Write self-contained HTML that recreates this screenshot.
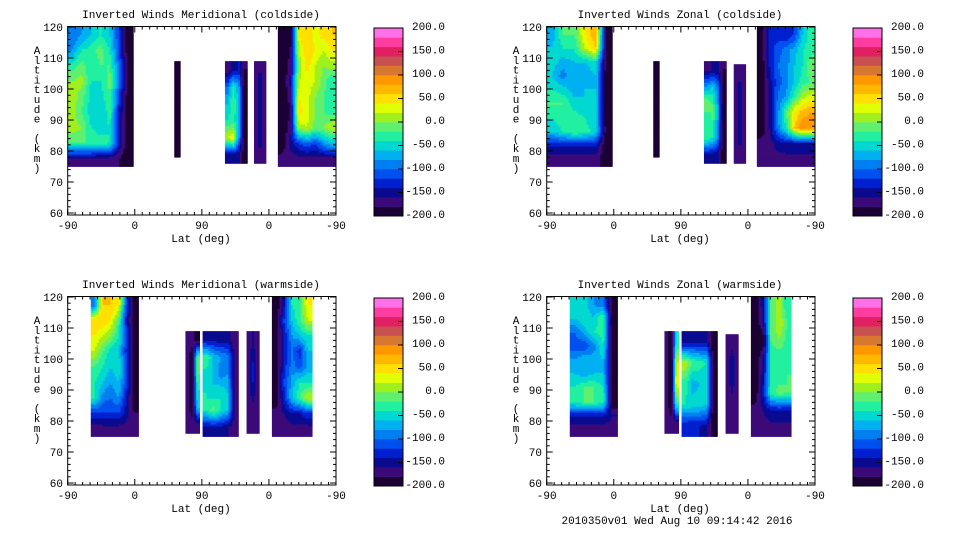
<!DOCTYPE html>
<html><head><meta charset="utf-8"><style>
html,body{margin:0;padding:0;background:#fff;width:960px;height:540px;overflow:hidden}
svg text{font-family:"Liberation Mono","DejaVu Sans Mono",monospace;font-size:11px;fill:#000}
</style></head><body>
<svg id="fig" width="960" height="540" xmlns="http://www.w3.org/2000/svg"></svg>
<script>
const xTicks=["-90","0","90","0","-90"];
const yTicks=[60,70,80,90,100,110,120];
const cbTicks=["200.0","150.0","100.0","50.0","0.0","-50.0","-100.0","-150.0","-200.0"];
const levels=["#1a0033","#3c0a78","#0a0a90","#0020d0","#0050f0","#0080f0","#00b0f0","#00d8d0","#20f0a0","#60f070","#a0f020","#e0ff00","#ffe000","#ffb800","#ff9800","#d87830","#c85050","#e02060","#ff3ca0","#ff70e8"];
const titles=["Inverted Winds Meridional (coldside)","Inverted Winds Zonal (coldside)","Inverted Winds Meridional (warmside)","Inverted Winds Zonal (warmside)"];
// strips: [lat0,lat1 (0..360 track units), altTop, altBottom]
const tlStrips=[[0,88,120,75],[143,151,109,78],[211,241,109,76],[250,266,109,76],[282,360,120,75]];
const tlValues=[
[[-100,-80,-60,-40,-60,-120,-200],[-80,-40,-30,-10,-40,-120,-200],[-30,-10,-40,-20,-20,-100,-200],[0,10,-40,-40,-10,-100,-200],[10,-10,-50,-50,-20,-120,-200],[10,-20,-50,-60,-30,-140,-200],[10,0,-40,-50,-40,-140,-200],[-20,-20,-20,-30,-40,-140,-200],[-170,-170,-170,-170,-170,-180,-200]],
[[-200]],
[[-170,-150,-140,-180],[-100,-40,-80,-200],[-60,-20,-60,-200],[-40,-30,-70,-200],[20,40,-80,-200],[-150,-150,-160,-200]],
[[-170,-160,-170],[-170,-140,-170],[-170,-140,-170],[-170,-140,-170],[-170,-140,-170],[-170,-170,-170]],
[[-200,-200,40,60,30,50,60],[-200,-180,20,60,40,20,40],[-200,-170,0,50,20,0,10],[-200,-160,20,30,20,-10,-40],[-200,-170,40,30,0,-20,-30],[-200,-180,50,30,0,-20,-30],[-200,-170,10,20,-10,0,20],[-200,-150,-120,-100,-120,-80,-60],[-170,-170,-170,-170,-170,-170,-170]]];
const trStrips=[[0,88,120,75],[143,151,109,78],[211,241,109,76],[251,267,108,76],[282,360,120,75]];
const trValues=[
[[-70,-20,-20,40,80,-200],[-60,-40,-40,20,60,-200],[-50,-70,-60,-60,-40,-200],[-60,-90,-60,-80,-60,-200],[-40,-50,-70,-60,-60,-200],[-20,-20,-50,-60,-60,-200],[-40,-20,-30,-40,-60,-200],[-60,-40,-20,-30,-50,-200],[-140,-140,-140,-140,-140,-200],[-170,-170,-170,-170,-170,-200]],
[[-200]],
[[-170,-160,-160,-180],[-80,-60,-100,-200],[0,-20,-80,-200],[-40,-20,-80,-200],[-20,-40,-90,-200],[-150,-150,-160,-200]],
[[-170,-170,-170],[-170,-140,-170],[-170,-140,-170],[-170,-140,-170],[-170,-170,-170]],
[[-200,-130,-130,-140,-120,-60,-30],[-200,-130,-110,-90,-70,-40,-30],[-200,-140,-100,-90,-60,-40,0],[-200,-150,-110,-90,-60,-30,-20],[-200,-160,-100,-80,-30,10,30],[-200,-160,-90,-20,40,70,80],[-200,-160,-90,-40,60,100,90],[-170,-170,-150,-140,-140,-140,-140],[-170,-170,-170,-170,-170,-170,-170]]];
const blStrips=[[31,95,120,75],[158,177,109,76],[181,229,109,75],[240,257,109,76],[274,328,120,75]];
const blValues=[
[[-100,60,60,40,-120,-200],[60,60,40,-20,-140,-200],[40,20,0,-40,-120,-200],[20,-20,-50,-60,-130,-200],[-20,-40,-60,-40,-120,-200],[-40,-60,-80,-60,-120,-200],[-40,-90,-100,-80,-140,-200],[-120,-120,-120,-120,-150,-180],[-180,-170,-170,-170,-170,-170]],
[[-170,-170,-200],[-170,-200,-20],[-170,-200,-20],[-170,-200,-40],[-170,-200,-60],[-170,-170,-170]],
[[-150,-150,-150,-150,-170],[-20,-60,-80,-90,-170],[-50,-60,-90,-80,-170],[-40,-60,-40,-60,-170],[-40,-10,-40,-60,-170],[-150,-150,-150,-160,-170]],
[[-170,-160,-170],[-170,-140,-170],[-170,-140,-170],[-170,-160,-170],[-170,-170,-170]],
[[-200,-150,-40,-20,40],[-200,-120,-60,-20,20],[-200,-140,-80,-60,-40],[-200,-140,-100,-130,-60],[-200,-130,-90,-110,-70],[-200,-120,-70,-40,-40],[-200,-130,-60,-20,20],[-170,-160,-140,-140,-120],[-170,-170,-170,-170,-170]]];
const brStrips=[[31,95,120,75],[158,177,109,76],[181,229,109,75],[240,257,108,76],[274,328,120,75]];
const brValues=[
[[-60,-50,-80,-100,-200],[-60,-40,-60,-20,-200],[-100,-70,-40,-30,-200],[-110,-120,-90,-40,-200],[-80,-60,-70,-60,-200],[-60,-70,-60,-60,-200],[-40,-20,-20,-40,-200],[-30,-20,-20,-30,-200],[-140,-140,-140,-140,-160],[-170,-170,-170,-170,-170]],
[[-170,-200,-40],[-170,-200,20],[-170,-200,40],[-170,-200,-20],[-170,-170,-170]],
[[-160,-150,-150,-150,-200],[20,-20,-30,-40,-200],[-30,-70,-60,-60,-200],[-40,-50,-50,-60,-200],[-140,-140,-140,-150,-200]],
[[-170,-170,-170],[-170,-140,-170],[-170,-150,-170],[-170,-170,-170],[-170,-170,-170]],
[[-200,-150,-20,10,-40],[-200,-160,-20,20,-20],[-200,-200,-20,0,-30],[-200,-160,-40,-40,-30],[-200,-150,-40,-30,-20],[-200,-140,-30,-10,-20],[-170,-160,-140,-140,-140],[-170,-170,-170,-170,-170]]];
const panelStrips=[tlStrips,trStrips,blStrips,brStrips];
const panelValues=[tlValues,trValues,blValues,brValues];

const NS="http://www.w3.org/2000/svg";
const svg=document.getElementById('fig');
function mk(tag,attrs,parent){const e=document.createElementNS(NS,tag);for(const k in attrs)e.setAttribute(k,attrs[k]);(parent||svg).appendChild(e);return e;}
function colorOf(v){let i=Math.floor((v+200)/20);if(i<0)i=0;if(i>19)i=19;return levels[i];}
function sample(grid,fx,fy){
  const nr=grid.length,nc=grid[0].length;
  let cx=fx-0.5,cy=fy-0.5;
  cx=Math.max(0,Math.min(nc-1,cx));cy=Math.max(0,Math.min(nr-1,cy));
  const c0=Math.floor(cx),r0=Math.floor(cy),c1=Math.min(nc-1,c0+1),r1=Math.min(nr-1,r0+1);
  const tx=cx-c0,ty=cy-r0;
  const a=grid[r0][c0]*(1-tx)+grid[r0][c1]*tx,b=grid[r1][c0]*(1-tx)+grid[r1][c1]*tx;
  return a*(1-ty)+b*ty;
}
const offsets=[[0,0],[479,0],[0,270],[479,270]];
const PX0=67.7,PX1=336,PY0=26.5,PY1=215;
function makeScales(ox,oy){
  const xs=u=>ox+PX0+(u/360)*(PX1-PX0);
  const ys=a=>oy+27+(120-a)*3.1;
  return [xs,ys];
}
const names=["meridional-coldside","zonal-coldside","meridional-warmside","zonal-warmside"];
for(let p=0;p<4;p++){
  const [ox,oy]=offsets[p];
  const [xs,ys]=makeScales(ox,oy);
  const g=mk('g',{});
  
  
  const t=mk('text',{x:ox+201,y:oy+18,'text-anchor':'middle'},g);t.textContent=titles[p];
  
  const strips=panelStrips[p],vals=panelValues[p];
  for(let s=0;s<strips.length;s++){
    const [u0,u1,aT,aB]=strips[s];const grid=vals[s];
    const nr=grid.length,nc=grid[0].length;
    const X0=xs(u0),X1=xs(u1),Y0=ys(aT),Y1=ys(aB);
    const W=X1-X0,H=Y1-Y0;
    const sg=mk('g',{},g);
    
    
    const nx=Math.max(1,Math.ceil(W/2)),ny=Math.max(1,Math.ceil(H/2));
    const dx=W/nx,dy=H/ny;
    for(let j=0;j<ny;j++){
      const y=Y0+j*dy;
      const fy=(j+0.5)/ny*nr;
      let runStart=0,runCol=null;
      for(let i=0;i<=nx;i++){
        const col=(i<nx)?colorOf(sample(grid,(i+0.5)/nx*nc,fy)):null;
        if(col!==runCol){
          if(runCol!==null){mk('rect',{x:X0+runStart*dx,y:y,width:(i-runStart)*dx+0.4,height:dy+0.4,fill:runCol},sg);}
          runCol=col;runStart=i;
        }
      }
    }
  }
  const fr=mk('rect',{x:ox+PX0,y:oy+PY0,width:PX1-PX0,height:PY1-PY0,fill:'none',stroke:'#000','stroke-width':1},g);
  
  for(let a=60;a<=120;a+=2){
    const y=ys(a),L=(a%10===0)?6:3;
    mk('line',{x1:ox+PX0,x2:ox+PX0+L,y1:y,y2:y,stroke:'#000'},g);
    mk('line',{x1:ox+PX1,x2:ox+PX1-L,y1:y,y2:y,stroke:'#000'},g);
  }
  for(const a of yTicks){const tt=mk('text',{x:ox+63,y:ys(a)+4,'text-anchor':'end','font-size':'12'},g);tt.textContent=a;
    }
  for(let u=0;u<=360;u+=10){
    const x=xs(u),L=(u%90===0)?6:3;
    mk('line',{x1:x,x2:x,y1:oy+PY1,y2:oy+PY1-L,stroke:'#000'},g);
    mk('line',{x1:x,x2:x,y1:oy+PY0,y2:oy+PY0+L,stroke:'#000'},g);
  }
  xTicks.forEach((lab,i)=>{const tt=mk('text',{x:xs(i*90),y:oy+229,'text-anchor':'middle','font-size':'12'},g);tt.textContent=lab;
    });
  const xl=mk('text',{x:ox+201,y:oy+242,'text-anchor':'middle','font-size':'12'},g);xl.textContent="Lat (deg)";
  
  const yl=mk('text',{x:ox+37,y:oy+50,'text-anchor':'middle','font-size':'12'},g);
  
  "Altitude (km)".split('').forEach((ch,i)=>{const ts=mk('tspan',{x:ox+37,y:oy+54+i*9.8},yl);ts.textContent=ch===' '?'\u00a0':ch;});
  const cb=mk('g',{},g);
  const cx=ox+374,cw=29,cy0=oy+28,cy1=oy+216,bh=(cy1-cy0)/20;
  for(let i=0;i<20;i++){mk('rect',{x:cx,y:cy1-(i+1)*bh,width:cw,height:bh+0.3,fill:levels[i]},cb);}
  mk('rect',{x:cx,y:cy0,width:cw,height:cy1-cy0,fill:'none',stroke:'#000'},cb);
  cbTicks.forEach((lab,i)=>{const y=cy0+i*(cy1-cy0)/8;
    if(i>0&&i<8)mk('line',{x1:cx+cw-5,x2:cx+cw,y1:y,y2:y,stroke:'#000'},cb);
    const tt=mk('text',{x:ox+445,y:y+2,'text-anchor':'end','font-size':'12'},cb);tt.textContent=lab;
    });
}
const ft=mk('text',{x:677,y:524,'text-anchor':'middle','font-size':'12'});ft.textContent="2010350v01 Wed Aug 10 09:14:42 2016";

</script>
</body></html>
